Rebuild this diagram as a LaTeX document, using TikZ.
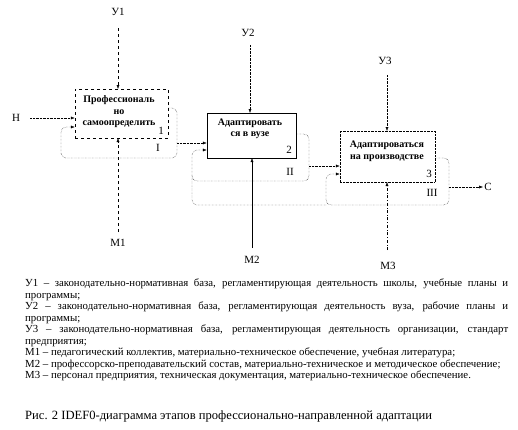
\documentclass[tikz,border=0pt]{standalone}
\usepackage{fontspec}
\setmainfont{Liberation Serif}
\usetikzlibrary{arrows.meta}

\tikzset{
    funcbox/.style={draw, inner sep=0pt},
    functext/.style={inner sep=0pt, align=center, font=\fontsize{10}{11.5}\selectfont\bfseries},
    lbl/.style={inner sep=1pt, font=\fontsize{11}{12}\selectfont},
    num/.style={inner sep=0pt, font=\fontsize{11}{12}\selectfont},
    arr/.style={-{Latex[length=4pt,width=3pt]}},
    loopline/.style={densely dotted, rounded corners=5pt},
}

\begin{document}
\begin{tikzpicture}[x=1pt,y=-1pt]
	\useasboundingbox (0,0) rectangle (518,429);

	% functional blocks
	\node[funcbox, dashed, minimum width=93pt, minimum height=49pt] (b1) at (121.5,113.5) {};
	\node[funcbox, minimum width=89pt, minimum height=45pt] (b2) at (251.5,135.5) {};
	\node[funcbox, densely dotted, minimum width=95pt, minimum height=51pt] (b3) at (387.5,156.5) {};
	\node[functext] (t1) at (119,112) {Профессиональ\\но\\самоопределить};
	\node[functext] (t2) at (250,129) {Адаптировать\\ся в вузе};
	\node[functext] (t3) at (387,151.5) {Адаптироваться\\на производстве};
	\node[num] (n1) at (161,131) {1};
	\node[num] (n2) at (289,150) {2};
	\node[num] (n3) at (429,174) {3};

	% controls and mechanisms
	\node[lbl] (u1) at (118,12) {У1};
	\node[lbl] (u2) at (248,33) {У2};
	\node[lbl] (u3) at (385,61) {У3};
	\node[lbl] (m1) at (118,243) {М1};
	\node[lbl] (m2) at (252,260) {М2};
	\node[lbl] (m3) at (388,266) {М3};
	\draw[arr, dashed] (118,28) -- (118,89);
	\draw[arr, densely dotted] (250,45) -- (250,113);
	\draw[arr, densely dotted] (387,75) -- (387,131);
	\draw[arr, dashed] (118,232) -- (118,138);
	\draw[arr] (252,248) -- (252,158);
	\draw[arr, dash dot] (387,250) -- (387,182);

	% input and output
	\node[lbl] (in) at (16,118) {Н};
	\node[lbl] (out) at (488,187) {С};
	\draw[arr, densely dotted] (30,118) -- (b1.west |- 0,118);
	\draw[arr, densely dotted] (449,187) -- (out.west);

	% feedback loops
	\draw[arr, loopline] (b1.east |- 0,108) -- (177,108) -- (177,158) -- (61,158) -- (61,127) -- (b1.west |- 0,127);
	\draw[arr, densely dotted] (177,143) -- (b2.west |- 0,143);
	\node[num] (o1) at (158,148) {I};

	\draw[arr, loopline] (b2.east |- 0,134) -- (309,134) -- (309,181) -- (192,181) -- (192,150) -- (b2.west |- 0,150);
	\draw[arr, densely dotted] (309,166) -- (b3.west |- 0,166);
	\node[num] (o2) at (290,172) {II};

	\draw[arr, loopline] (b3.east |- 0,158) -- (449,158) -- (449,205) -- (326,205) -- (326,174) -- (b3.west |- 0,174);
	\draw[loopline] (326,205) -- (192,205) -- (192,175);
	\node[num] (o3) at (432,193) {III};

	% legend
	\node[anchor=north west, inner sep=0pt, text width=483pt, align=justify, font=\fontsize{10.8}{11.5}\selectfont] (leg) at (25,279) {%
		У1 -- законодательно-нормативная база, регламентирующая деятельность школы, учебные планы и программы;\par
		У2 -- законодательно-нормативная база, регламентирующая деятельность вуза, рабочие планы и программы;\par
		У3 -- законодательно-нормативная база, регламентирующая деятельность организации, стандарт предприятия;\par
		М1 -- педагогический коллектив, материально-техническое обеспечение, учебная литература;\par
		М2 -- профессорско-преподавательский состав, материально-техническое и методическое обеспечение;\par
		М3 -- персонал предприятия, техническая документация, материально-техническое обеспечение.};
	\node[anchor=west, inner sep=0pt, font=\fontsize{12.6}{14}\selectfont] (cap) at (25,416) {Рис. 2 IDEF0-диаграмма этапов профессионально-направленной адаптации};
\end{tikzpicture}
\end{document}
